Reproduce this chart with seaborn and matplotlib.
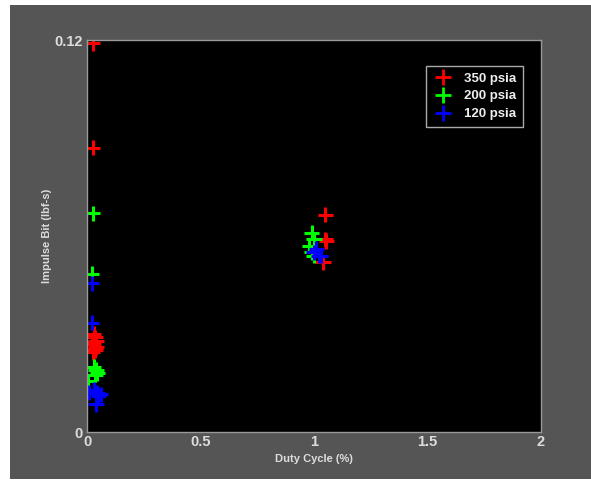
import numpy as np
import pandas as pd
import matplotlib
matplotlib.use("Agg")
import matplotlib.pyplot as plt
from matplotlib.lines import Line2D
from matplotlib.patches import Rectangle
import seaborn as sns

# 350 psia
red_x = [0.025, 0.025, 0.02, 0.03, 0.035, 0.04, 0.03, 0.04, 0.035, 0.025,
         1.05, 1.05, 1.055, 1.04]
red_y = [0.119, 0.087, 0.0275, 0.030, 0.029, 0.028, 0.027, 0.026, 0.025, 0.0245,
         0.0665, 0.059, 0.0585, 0.052]
# 200 psia
green_x = [0.025, 0.02, 0.03, 0.04, 0.045, 0.035, 0.005,
           0.99, 1.0, 0.98, 0.99, 1.0]
green_y = [0.067, 0.0485, 0.020, 0.019, 0.018, 0.0175, 0.0155,
           0.061, 0.059, 0.057, 0.055, 0.054]
# 120 psia
blue_x = [0.02, 0.02, 0.01, 0.03, 0.045, 0.05, 0.06, 0.04,
          1.01, 1.02, 1.0, 1.03]
blue_y = [0.0455, 0.0335, 0.012, 0.013, 0.012, 0.011, 0.0115, 0.0085,
          0.056, 0.054, 0.055, 0.054]

series = ['350 psia', '200 psia', '120 psia']
colors = ['#ff0000', '#00ff00', '#0000ff']

df = pd.concat([
    pd.DataFrame({'duty': red_x, 'ibit': red_y, 'p': series[0]}),
    pd.DataFrame({'duty': green_x, 'ibit': green_y, 'p': series[1]}),
    pd.DataFrame({'duty': blue_x, 'ibit': blue_y, 'p': series[2]}),
])

sns.set_style("dark")
plt.rcParams['font.family'] = ['Liberation Sans', 'DejaVu Sans']
plt.rcParams['font.weight'] = 'bold'

fig = plt.figure(figsize=(5.91, 4.80), dpi=100, facecolor='white')
# grey figure panel with thin white margin like the screenshot
fig.patches.append(Rectangle((10 / 591, 1 / 480), 1, 474 / 480, transform=fig.transFigure,
                             facecolor='#555555', edgecolor='none', zorder=-10))

ax = fig.add_axes([87 / 591, 48 / 480, 454 / 591, 392 / 480])
ax.set_facecolor('black')

sns.scatterplot(data=df, x='duty', y='ibit', hue='p', hue_order=series,
                palette=colors, marker='+', s=120, linewidth=2.2, legend=False, ax=ax)

ax.set_xlim(0, 2)
ax.set_ylim(0, 0.12)
ax.set_xticks([0, 0.5, 1, 1.5, 2])
ax.set_xticklabels(['0', '0.5', '1', '1.5', '2'])
ax.set_yticks([0, 0.12])
ax.set_yticklabels(['0', '0.12'])
ax.tick_params(colors='#dddddd', labelsize=10.5, direction='in', length=4, width=1, pad=2)
ax.tick_params(axis='y', pad=3)
ax.grid(False)
for s in ax.spines.values():
    s.set_visible(True)
    s.set_color('#999999')
    s.set_linewidth(1)

ax.set_xlabel('Duty Cycle (%)', color='#dddddd', fontsize=8, fontweight='bold', labelpad=4)
ax.set_ylabel('Impulse Bit (lbf-s)', color='#dddddd', fontsize=8, fontweight='bold', labelpad=2)

handles = [Line2D([], [], linestyle='none', marker='+', color=c, markersize=12,
                  markeredgewidth=2) for c in colors]
leg = ax.legend(handles, series, loc='upper right', bbox_to_anchor=(0.961, 0.934),
                borderaxespad=0,
                facecolor='black', edgecolor='#aaaaaa', fancybox=False, framealpha=1,
                handlelength=1.6, handletextpad=0.8, borderpad=0.5, labelspacing=0.42,
                prop={'weight': 'bold', 'size': 9.5})
for t in leg.get_texts():
    t.set_color('#eeeeee')

fig.savefig('out.png', dpi=100, facecolor=fig.get_facecolor())
